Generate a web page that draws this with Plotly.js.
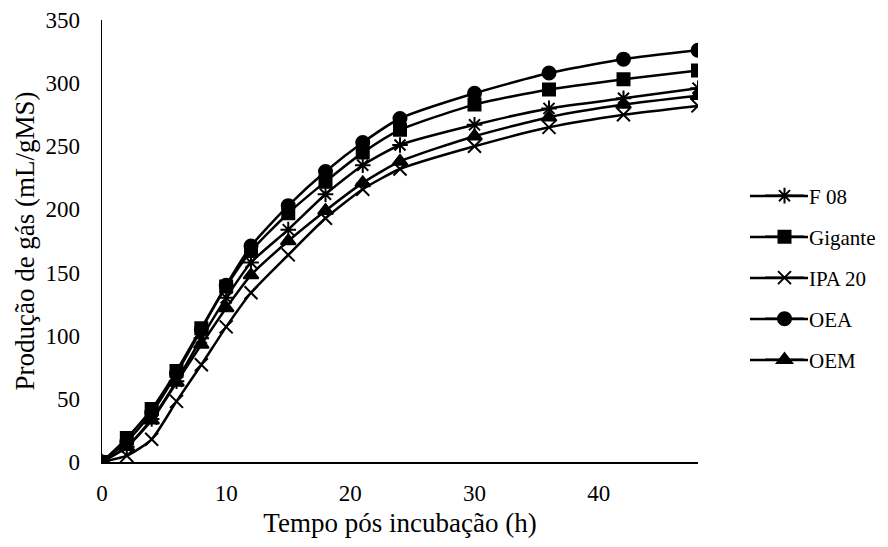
<!DOCTYPE html>
<html>
<head>
<meta charset="utf-8">
<script src="https://cdn.plot.ly/plotly-3.0.1.min.js"></script>
<style>html,body{margin:0;padding:0;background:#fff;}#chart{width:888px;height:547px;}</style>
</head>
<body>
<div id="chart"></div>
<script>
const hours = [0,2,4,6,8,10,12,15,18,21,24,30,36,42,48];
const seriesNames = ["F 08","Gigante","IPA 20","OEA","OEM"];
const f08 = [0,12,34,64,98,130,158,184,212,235,251,267,280,288,296];
const gigante = [0,19,42,72,106,139,167,197,222,245,263,283,295,303,310];
const ipa20 = [0,5,18,48,77,107,134,164,193,216,232,250,265,275,282];
const oea = [0,16,39,70,105,140,171,203,230,253,272,292,308,319,326];
const oem = [0,12,33,63,93,122,148,175,199,221,238,258,273,283,290];
const xTicks = [0,10,20,30,40];
const yTicks = [0,50,100,150,200,250,300,350];

const values = [f08, gigante, ipa20, oea, oem];
const symbols = ["asterisk-open","square","x-thin-open","circle","triangle-up"];
const sizes = [13,12,13,13,13];

const traces = values.map((v,i)=>({
  x: hours, y: v, name: seriesNames[i], type:'scatter', mode:'lines+markers',
  legendgroup: 'g'+i,
  line:{color:'#000', width:2.5, shape:'spline', smoothing:0.6},
  marker:{symbol:symbols[i], size:sizes[i], color:'#000', line:{color:'#000', width:2}}
}));

const FAM = "Times New Roman";
const tickFont = {family:FAM, size:23, color:'#000'};
const titleFont = {family:FAM, size:27, color:'#000'};
const legFont = {family:FAM, size:21, color:'#000'};

// legend key lines (longer, Excel-style)
const legendRowsPx = [196,237,278,319,360];
const W = 888, H = 547;
const keyShapes = legendRowsPx.map(py=>({
  type:'line', xref:'paper', yref:'paper',
  x0:(750-102)/596, x1:(808-102)/596, y0:(462-py)/442, y1:(462-py)/442,
  line:{color:'#000', width:2.5}
}));

const layout = {
  width:W, height:H,
  margin:{l:102, r:190, t:20, b:85},
  paper_bgcolor:'#fff', plot_bgcolor:'#fff',
  font: {family:FAM, size:22, color:'#000'},
  showlegend:true,
  legend:{xref:'container', x:760/W, xanchor:'left', yref:'paper', y:(462-278)/442, yanchor:'middle',
          traceorder:'grouped', tracegroupgap:10.7,
          font:legFont, itemwidth:39, bgcolor:'rgba(0,0,0,0)'},
  shapes: keyShapes,
  xaxis:{range:[0,48], tickvals:xTicks, ticktext:xTicks.map(String), showgrid:false, zeroline:false,
         showline:true, linecolor:'#000', linewidth:1.5, ticks:'', ticklen:0, ticklabelstandoff:10,
         title:{text:'Tempo pós incubação (h)', font:titleFont, standoff:8}, tickfont:tickFont},
  yaxis:{range:[0,350], tickvals:yTicks, ticktext:yTicks.map(String), showgrid:false, zeroline:false,
         showline:true, linecolor:'#000', linewidth:1.5, ticks:'', ticklen:0, ticklabelstandoff:16,
         title:{text:'Produção de gás (mL/gMS)', font:titleFont, standoff:3}, tickfont:tickFont}
};
Plotly.newPlot('chart', traces, layout, {displayModeBar:false, staticPlot:true});
</script>
</body>
</html>
